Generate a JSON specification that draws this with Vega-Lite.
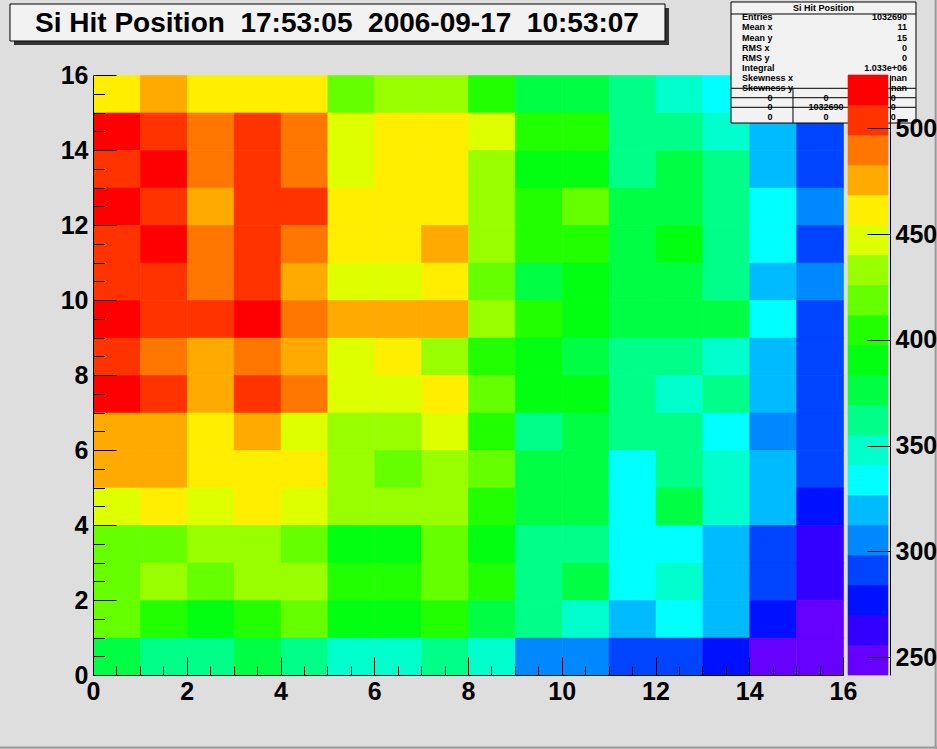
{
  "$schema": "https://vega.github.io/schema/vega-lite/v6.json",
  "width": 750,
  "height": 600,
  "autosize": {"type": "none"},
  "padding": {"left": 93, "top": 75, "right": 94, "bottom": 74},
  "background": "#dedede",
  "config": {"view": {"stroke": null}, "font": "Liberation Sans"},
  "datasets": {
    "cells": [
      {"x":0,"y":15,"z":461},{"x":1,"y":15,"z":476},{"x":2,"y":15,"z":461},{"x":3,"y":15,"z":461},{"x":4,"y":15,"z":461},{"x":5,"y":15,"z":419},{"x":6,"y":15,"z":433},{"x":7,"y":15,"z":433},{"x":8,"y":15,"z":405},{"x":9,"y":15,"z":376},{"x":10,"y":15,"z":376},{"x":11,"y":15,"z":362},{"x":12,"y":15,"z":348},{"x":13,"y":15,"z":334},{"x":14,"y":15,"z":320},{"x":15,"y":15,"z":291},
      {"x":0,"y":14,"z":518},{"x":1,"y":14,"z":504},{"x":2,"y":14,"z":490},{"x":3,"y":14,"z":504},{"x":4,"y":14,"z":490},{"x":5,"y":14,"z":447},{"x":6,"y":14,"z":461},{"x":7,"y":14,"z":461},{"x":8,"y":14,"z":447},{"x":9,"y":14,"z":405},{"x":10,"y":14,"z":405},{"x":11,"y":14,"z":362},{"x":12,"y":14,"z":362},{"x":13,"y":14,"z":348},{"x":14,"y":14,"z":320},{"x":15,"y":14,"z":291},
      {"x":0,"y":13,"z":504},{"x":1,"y":13,"z":518},{"x":2,"y":13,"z":490},{"x":3,"y":13,"z":504},{"x":4,"y":13,"z":490},{"x":5,"y":13,"z":447},{"x":6,"y":13,"z":461},{"x":7,"y":13,"z":461},{"x":8,"y":13,"z":433},{"x":9,"y":13,"z":390},{"x":10,"y":13,"z":390},{"x":11,"y":13,"z":362},{"x":12,"y":13,"z":376},{"x":13,"y":13,"z":362},{"x":14,"y":13,"z":320},{"x":15,"y":13,"z":291},
      {"x":0,"y":12,"z":518},{"x":1,"y":12,"z":504},{"x":2,"y":12,"z":476},{"x":3,"y":12,"z":504},{"x":4,"y":12,"z":504},{"x":5,"y":12,"z":461},{"x":6,"y":12,"z":461},{"x":7,"y":12,"z":461},{"x":8,"y":12,"z":433},{"x":9,"y":12,"z":405},{"x":10,"y":12,"z":419},{"x":11,"y":12,"z":376},{"x":12,"y":12,"z":376},{"x":13,"y":12,"z":362},{"x":14,"y":12,"z":334},{"x":15,"y":12,"z":305},
      {"x":0,"y":11,"z":504},{"x":1,"y":11,"z":518},{"x":2,"y":11,"z":490},{"x":3,"y":11,"z":504},{"x":4,"y":11,"z":490},{"x":5,"y":11,"z":461},{"x":6,"y":11,"z":461},{"x":7,"y":11,"z":476},{"x":8,"y":11,"z":433},{"x":9,"y":11,"z":405},{"x":10,"y":11,"z":405},{"x":11,"y":11,"z":376},{"x":12,"y":11,"z":390},{"x":13,"y":11,"z":362},{"x":14,"y":11,"z":334},{"x":15,"y":11,"z":291},
      {"x":0,"y":10,"z":504},{"x":1,"y":10,"z":504},{"x":2,"y":10,"z":490},{"x":3,"y":10,"z":504},{"x":4,"y":10,"z":476},{"x":5,"y":10,"z":447},{"x":6,"y":10,"z":447},{"x":7,"y":10,"z":461},{"x":8,"y":10,"z":419},{"x":9,"y":10,"z":376},{"x":10,"y":10,"z":390},{"x":11,"y":10,"z":376},{"x":12,"y":10,"z":376},{"x":13,"y":10,"z":362},{"x":14,"y":10,"z":320},{"x":15,"y":10,"z":305},
      {"x":0,"y":9,"z":518},{"x":1,"y":9,"z":504},{"x":2,"y":9,"z":504},{"x":3,"y":9,"z":518},{"x":4,"y":9,"z":490},{"x":5,"y":9,"z":476},{"x":6,"y":9,"z":476},{"x":7,"y":9,"z":476},{"x":8,"y":9,"z":433},{"x":9,"y":9,"z":405},{"x":10,"y":9,"z":390},{"x":11,"y":9,"z":376},{"x":12,"y":9,"z":376},{"x":13,"y":9,"z":376},{"x":14,"y":9,"z":334},{"x":15,"y":9,"z":291},
      {"x":0,"y":8,"z":504},{"x":1,"y":8,"z":490},{"x":2,"y":8,"z":476},{"x":3,"y":8,"z":490},{"x":4,"y":8,"z":476},{"x":5,"y":8,"z":447},{"x":6,"y":8,"z":461},{"x":7,"y":8,"z":433},{"x":8,"y":8,"z":405},{"x":9,"y":8,"z":390},{"x":10,"y":8,"z":376},{"x":11,"y":8,"z":362},{"x":12,"y":8,"z":362},{"x":13,"y":8,"z":348},{"x":14,"y":8,"z":320},{"x":15,"y":8,"z":291},
      {"x":0,"y":7,"z":518},{"x":1,"y":7,"z":504},{"x":2,"y":7,"z":476},{"x":3,"y":7,"z":504},{"x":4,"y":7,"z":490},{"x":5,"y":7,"z":447},{"x":6,"y":7,"z":447},{"x":7,"y":7,"z":461},{"x":8,"y":7,"z":419},{"x":9,"y":7,"z":390},{"x":10,"y":7,"z":390},{"x":11,"y":7,"z":362},{"x":12,"y":7,"z":348},{"x":13,"y":7,"z":362},{"x":14,"y":7,"z":320},{"x":15,"y":7,"z":291},
      {"x":0,"y":6,"z":476},{"x":1,"y":6,"z":476},{"x":2,"y":6,"z":461},{"x":3,"y":6,"z":476},{"x":4,"y":6,"z":447},{"x":5,"y":6,"z":433},{"x":6,"y":6,"z":433},{"x":7,"y":6,"z":447},{"x":8,"y":6,"z":405},{"x":9,"y":6,"z":362},{"x":10,"y":6,"z":376},{"x":11,"y":6,"z":362},{"x":12,"y":6,"z":362},{"x":13,"y":6,"z":334},{"x":14,"y":6,"z":305},{"x":15,"y":6,"z":291},
      {"x":0,"y":5,"z":476},{"x":1,"y":5,"z":476},{"x":2,"y":5,"z":461},{"x":3,"y":5,"z":461},{"x":4,"y":5,"z":461},{"x":5,"y":5,"z":433},{"x":6,"y":5,"z":419},{"x":7,"y":5,"z":433},{"x":8,"y":5,"z":419},{"x":9,"y":5,"z":376},{"x":10,"y":5,"z":376},{"x":11,"y":5,"z":334},{"x":12,"y":5,"z":362},{"x":13,"y":5,"z":348},{"x":14,"y":5,"z":320},{"x":15,"y":5,"z":291},
      {"x":0,"y":4,"z":447},{"x":1,"y":4,"z":461},{"x":2,"y":4,"z":447},{"x":3,"y":4,"z":461},{"x":4,"y":4,"z":447},{"x":5,"y":4,"z":433},{"x":6,"y":4,"z":433},{"x":7,"y":4,"z":433},{"x":8,"y":4,"z":405},{"x":9,"y":4,"z":376},{"x":10,"y":4,"z":376},{"x":11,"y":4,"z":334},{"x":12,"y":4,"z":376},{"x":13,"y":4,"z":348},{"x":14,"y":4,"z":320},{"x":15,"y":4,"z":277},
      {"x":0,"y":3,"z":419},{"x":1,"y":3,"z":419},{"x":2,"y":3,"z":433},{"x":3,"y":3,"z":433},{"x":4,"y":3,"z":419},{"x":5,"y":3,"z":390},{"x":6,"y":3,"z":390},{"x":7,"y":3,"z":419},{"x":8,"y":3,"z":390},{"x":9,"y":3,"z":362},{"x":10,"y":3,"z":362},{"x":11,"y":3,"z":334},{"x":12,"y":3,"z":334},{"x":13,"y":3,"z":320},{"x":14,"y":3,"z":291},{"x":15,"y":3,"z":263},
      {"x":0,"y":2,"z":419},{"x":1,"y":2,"z":433},{"x":2,"y":2,"z":419},{"x":3,"y":2,"z":433},{"x":4,"y":2,"z":433},{"x":5,"y":2,"z":405},{"x":6,"y":2,"z":405},{"x":7,"y":2,"z":419},{"x":8,"y":2,"z":405},{"x":9,"y":2,"z":362},{"x":10,"y":2,"z":376},{"x":11,"y":2,"z":334},{"x":12,"y":2,"z":348},{"x":13,"y":2,"z":320},{"x":14,"y":2,"z":291},{"x":15,"y":2,"z":263},
      {"x":0,"y":1,"z":419},{"x":1,"y":1,"z":405},{"x":2,"y":1,"z":390},{"x":3,"y":1,"z":405},{"x":4,"y":1,"z":419},{"x":5,"y":1,"z":390},{"x":6,"y":1,"z":390},{"x":7,"y":1,"z":405},{"x":8,"y":1,"z":376},{"x":9,"y":1,"z":362},{"x":10,"y":1,"z":348},{"x":11,"y":1,"z":320},{"x":12,"y":1,"z":334},{"x":13,"y":1,"z":320},{"x":14,"y":1,"z":277},{"x":15,"y":1,"z":249},
      {"x":0,"y":0,"z":376},{"x":1,"y":0,"z":362},{"x":2,"y":0,"z":362},{"x":3,"y":0,"z":376},{"x":4,"y":0,"z":362},{"x":5,"y":0,"z":348},{"x":6,"y":0,"z":348},{"x":7,"y":0,"z":362},{"x":8,"y":0,"z":348},{"x":9,"y":0,"z":305},{"x":10,"y":0,"z":305},{"x":11,"y":0,"z":291},{"x":12,"y":0,"z":291},{"x":13,"y":0,"z":277},{"x":14,"y":0,"z":249},{"x":15,"y":0,"z":249}
    ],
    "palette": [
      {"lo":241.6,"hi":255.78,"z":249},{"lo":255.78,"hi":269.96,"z":263},{"lo":269.96,"hi":284.14,"z":277},{"lo":284.14,"hi":298.32,"z":291},
      {"lo":298.32,"hi":312.5,"z":305},{"lo":312.5,"hi":326.68,"z":320},{"lo":326.68,"hi":340.86,"z":334},{"lo":340.86,"hi":355.04,"z":348},
      {"lo":355.04,"hi":369.22,"z":362},{"lo":369.22,"hi":383.4,"z":376},{"lo":383.4,"hi":397.58,"z":390},{"lo":397.58,"hi":411.76,"z":405},
      {"lo":411.76,"hi":425.94,"z":419},{"lo":425.94,"hi":440.12,"z":433},{"lo":440.12,"hi":454.3,"z":447},{"lo":454.3,"hi":468.48,"z":461},
      {"lo":468.48,"hi":482.66,"z":476},{"lo":482.66,"hi":496.84,"z":490},{"lo":496.84,"hi":511.02,"z":504},{"lo":511.02,"hi":525.2,"z":518}
    ],
    "one": [{}]
  },
  "layer": [
    {
      "layer": [
        {
          "data": {"name": "one"},
          "mark": {"type": "rule", "color": "#9a9a9a", "strokeWidth": 2},
          "encoding": {"x": {"datum": -1.984, "type": "quantitative", "axis": null}, "x2": {"datum": 18.005}, "y": {"datum": -1.93, "type": "quantitative", "axis": null}}
        },
        {
          "data": {"name": "one"},
          "mark": {"type": "rule", "color": "#9a9a9a", "strokeWidth": 2},
          "encoding": {"x": {"datum": 17.976, "type": "quantitative", "axis": null}, "y": {"datum": 18.0, "type": "quantitative", "axis": null}, "y2": {"datum": -1.973}}
        },
        {
          "data": {"name": "cells"},
          "mark": {"type": "rect", "binSpacing": 0, "strokeWidth": 0.6},
          "encoding": {
            "x": {"field": "x", "type": "quantitative", "bin": {"step": 1, "extent": [0, 16]},
              "scale": {"domain": [0, 16], "nice": false, "zero": false},
              "axis": {"orient": "bottom", "values": [0,2,4,6,8,10,12,14,16], "format": "d", "title": null, "grid": false,
                "domainColor": "#000000", "domainWidth": 1, "tickSize": -18, "tickColor": "#000000", "tickWidth": 1,
                "labelFont": "Liberation Sans", "labelFontSize": 25, "labelFontWeight": "bold", "labelColor": "#000000",
                "labelPadding": 22, "labelFlush": false, "labelOverlap": false, "labelBound": false, "zindex": 1}},
            "y": {"field": "y", "type": "quantitative", "bin": {"step": 1, "extent": [0, 16]},
              "scale": {"domain": [0, 16], "nice": false, "zero": false},
              "axis": {"orient": "left", "values": [0,2,4,6,8,10,12,14,16], "format": "d", "title": null, "grid": false,
                "domainColor": "#000000", "domainWidth": 1, "tickSize": -23, "tickColor": "#000000", "tickWidth": 1,
                "labelFont": "Liberation Sans", "labelFontSize": 25, "labelFontWeight": "bold", "labelColor": "#000000",
                "labelPadding": 28, "labelFlush": false, "labelOverlap": false, "labelBound": false, "zindex": 1}},
            "color": {"field": "z", "type": "quantitative",
              "scale": {"type": "quantize", "domain": [241.6, 525.2], "nice": false, "zero": false,
                "range": ["#6600ff","#3300ff","#0011ff","#0044ff","#0088ff","#00bbff","#00ffff","#00ffcc","#00ff88","#00ff44","#00ff11","#22ff00","#66ff00","#99ff00","#ddff00","#ffee00","#ffaa00","#ff7700","#ff3300","#ff0000"]},
              "legend": null},
            "stroke": {"field": "z", "type": "quantitative",
              "scale": {"type": "quantize", "domain": [241.6, 525.2], "nice": false, "zero": false,
                "range": ["#6600ff","#3300ff","#0011ff","#0044ff","#0088ff","#00bbff","#00ffff","#00ffcc","#00ff88","#00ff44","#00ff11","#22ff00","#66ff00","#99ff00","#ddff00","#ffee00","#ffaa00","#ff7700","#ff3300","#ff0000"]},
              "legend": null}
          }
        },
        {
          "data": {"name": "cells"},
          "mark": {"type": "point", "opacity": 0},
          "encoding": {
            "x": {"field": "x", "type": "quantitative",
              "axis": {"orient": "bottom", "values": [0.5,1,1.5,2.5,3,3.5,4.5,5,5.5,6.5,7,7.5,8.5,9,9.5,10.5,11,11.5,12.5,13,13.5,14.5,15,15.5],
                "labels": false, "domain": false, "grid": false, "title": null, "tickSize": -9, "tickColor": "#000000", "tickWidth": 1, "zindex": 1}},
            "y": {"field": "y", "type": "quantitative",
              "axis": {"orient": "left", "values": [0.5,1,1.5,2.5,3,3.5,4.5,5,5.5,6.5,7,7.5,8.5,9,9.5,10.5,11,11.5,12.5,13,13.5,14.5,15,15.5],
                "labels": false, "domain": false, "grid": false, "title": null, "tickSize": -11.5, "tickColor": "#000000", "tickWidth": 1, "zindex": 1}}
          }
        },
        {
          "data": {"name": "one"},
          "mark": {"type": "rect", "color": "#333333"},
          "encoding": {
            "x": {"datum": -1.6853, "type": "quantitative", "axis": null}, "x2": {"datum": 12.288},
            "y": {"datum": 17.7867, "type": "quantitative", "axis": null}, "y2": {"datum": 16.8}
          }
        },
        {
          "data": {"name": "one"},
          "mark": {"type": "rect", "fill": "#f2f2f2", "stroke": "#000000", "strokeWidth": 1},
          "encoding": {
            "x": {"datum": -1.7707, "type": "quantitative", "axis": null}, "x2": {"datum": 12.2027},
            "y": {"datum": 17.8933, "type": "quantitative", "axis": null}, "y2": {"datum": 16.9067}
          }
        },
        {
          "data": {"name": "one"},
          "mark": {"type": "text", "font": "Liberation Sans", "fontWeight": "bold", "fontSize": 28, "align": "center", "baseline": "middle", "color": "#000000"},
          "encoding": {
            "x": {"datum": 5.2053, "type": "quantitative", "axis": null},
            "y": {"datum": 17.3467, "type": "quantitative", "axis": null},
            "text": {"value": "Si Hit Position\u00a0 17:53:05\u00a0 2006-09-17\u00a0 10:53:07"}
          }
        },
        {
          "data": {"name": "one"},
          "mark": {"type": "rect", "fill": "#f2f2f2", "stroke": "#000000", "strokeWidth": 1},
          "encoding": {
            "x": {"datum": 13.6107, "type": "quantitative", "axis": null}, "x2": {"datum": 17.5573},
            "y": {"datum": 17.9467, "type": "quantitative", "axis": null}, "y2": {"datum": 14.72}
          }
        },
        {
          "data": {"name": "one"},
          "mark": {"type": "rule", "color": "#000000", "strokeWidth": 1},
          "encoding": {"x": {"datum": 13.6107, "type": "quantitative", "axis": null}, "x2": {"datum": 17.5573}, "y": {"datum": 17.6267, "type": "quantitative", "axis": null}}
        },
        {
          "data": {"name": "one"},
          "mark": {"type": "rule", "color": "#000000", "strokeWidth": 1},
          "encoding": {"x": {"datum": 13.6107, "type": "quantitative", "axis": null}, "x2": {"datum": 17.5573}, "y": {"datum": 15.6453, "type": "quantitative", "axis": null}}
        },
        {
          "data": {"name": "one"},
          "mark": {"type": "rule", "color": "#000000", "strokeWidth": 1},
          "encoding": {"x": {"datum": 13.6107, "type": "quantitative", "axis": null}, "x2": {"datum": 17.5573}, "y": {"datum": 15.3947, "type": "quantitative", "axis": null}}
        },
        {
          "data": {"name": "one"},
          "mark": {"type": "rule", "color": "#000000", "strokeWidth": 1},
          "encoding": {"x": {"datum": 13.6107, "type": "quantitative", "axis": null}, "x2": {"datum": 17.5573}, "y": {"datum": 15.1387, "type": "quantitative", "axis": null}}
        },
        {
          "data": {"name": "one"},
          "mark": {"type": "rule", "color": "#000000", "strokeWidth": 1},
          "encoding": {"x": {"datum": 14.9333, "type": "quantitative", "axis": null}, "y": {"datum": 15.6453, "type": "quantitative", "axis": null}, "y2": {"datum": 14.72}}
        },
        {
          "data": {"name": "one"},
          "mark": {"type": "text", "font": "Liberation Sans", "fontWeight": "bold", "fontSize": 9, "align": "center", "baseline": "middle", "color": "#000000"},
          "encoding": {"x": {"datum": 15.584, "type": "quantitative", "axis": null}, "y": {"datum": 17.778, "type": "quantitative", "axis": null}, "text": {"value": "Si Hit Position"}}
        },
        {
          "data": {"name": "one"},
          "mark": {"type": "text", "font": "Liberation Sans", "fontWeight": "bold", "fontSize": 9, "align": "left", "baseline": "middle", "lineHeight": 10.14, "color": "#000000"},
          "encoding": {"x": {"datum": 13.845, "type": "quantitative", "axis": null}, "y": {"datum": 17.5387, "type": "quantitative", "axis": null},
            "text": {"value": ["Entries", "Mean x", "Mean y", "RMS x", "RMS y", "Integral", "Skewness x", "Skewness y"]}}
        },
        {
          "data": {"name": "one"},
          "mark": {"type": "text", "font": "Liberation Sans", "fontWeight": "bold", "fontSize": 9, "align": "right", "baseline": "middle", "lineHeight": 10.14, "color": "#000000"},
          "encoding": {"x": {"datum": 17.365, "type": "quantitative", "axis": null}, "y": {"datum": 17.5387, "type": "quantitative", "axis": null},
            "text": {"value": ["1032690", "11", "15", "0", "0", "1.033e+06", "nan", "nan"]}}
        },
        {
          "data": {"name": "one"},
          "mark": {"type": "text", "font": "Liberation Sans", "fontWeight": "bold", "fontSize": 9, "align": "center", "baseline": "middle", "lineHeight": 9.5, "color": "#000000"},
          "encoding": {"x": {"datum": 14.443, "type": "quantitative", "axis": null}, "y": {"datum": 15.3947, "type": "quantitative", "axis": null},
            "text": {"value": ["0", "0", "0"]}}
        },
        {
          "data": {"name": "one"},
          "mark": {"type": "text", "font": "Liberation Sans", "fontWeight": "bold", "fontSize": 9, "align": "center", "baseline": "middle", "lineHeight": 9.5, "color": "#000000"},
          "encoding": {"x": {"datum": 15.637, "type": "quantitative", "axis": null}, "y": {"datum": 15.3947, "type": "quantitative", "axis": null},
            "text": {"value": ["0", "1032690", "0"]}}
        },
        {
          "data": {"name": "one"},
          "mark": {"type": "text", "font": "Liberation Sans", "fontWeight": "bold", "fontSize": 9, "align": "center", "baseline": "middle", "lineHeight": 9.5, "color": "#000000"},
          "encoding": {"x": {"datum": 17.07, "type": "quantitative", "axis": null}, "y": {"datum": 15.3947, "type": "quantitative", "axis": null},
            "text": {"value": ["0", "0", "0"]}}
        }
      ],
      "resolve": {"axis": {"x": "independent", "y": "independent"}}
    },
    {
      "data": {"name": "palette"},
      "mark": {"type": "rect", "strokeWidth": 0.6},
      "encoding": {
        "x": {"datum": 16.107, "type": "quantitative", "axis": null},
        "x2": {"datum": 16.96},
        "y": {"field": "lo", "type": "quantitative",
          "scale": {"domain": [241.6, 525.2], "nice": false, "zero": false},
          "axis": {"orient": "right", "offset": 47, "values": [250,300,350,400,450,500], "format": "d", "title": null, "grid": false,
            "domainColor": "#000000", "domainWidth": 1, "tickSize": -23, "tickColor": "#000000", "tickWidth": 1,
            "labelFont": "Liberation Sans", "labelFontSize": 25, "labelFontWeight": "bold", "labelColor": "#000000",
            "labelPadding": 28, "labelFlush": false, "labelOverlap": false, "labelBound": false, "zindex": 1}},
        "y2": {"field": "hi"},
        "color": {"field": "z", "type": "quantitative",
          "scale": {"type": "quantize", "domain": [241.6, 525.2], "nice": false, "zero": false,
            "range": ["#6600ff","#3300ff","#0011ff","#0044ff","#0088ff","#00bbff","#00ffff","#00ffcc","#00ff88","#00ff44","#00ff11","#22ff00","#66ff00","#99ff00","#ddff00","#ffee00","#ffaa00","#ff7700","#ff3300","#ff0000"]},
          "legend": null},
        "stroke": {"field": "z", "type": "quantitative",
          "scale": {"type": "quantize", "domain": [241.6, 525.2], "nice": false, "zero": false,
            "range": ["#6600ff","#3300ff","#0011ff","#0044ff","#0088ff","#00bbff","#00ffff","#00ffcc","#00ff88","#00ff44","#00ff11","#22ff00","#66ff00","#99ff00","#ddff00","#ffee00","#ffaa00","#ff7700","#ff3300","#ff0000"]},
          "legend": null}
      }
    }
  ],
  "resolve": {"scale": {"y": "independent"}, "axis": {"x": "independent", "y": "independent"}}
}
